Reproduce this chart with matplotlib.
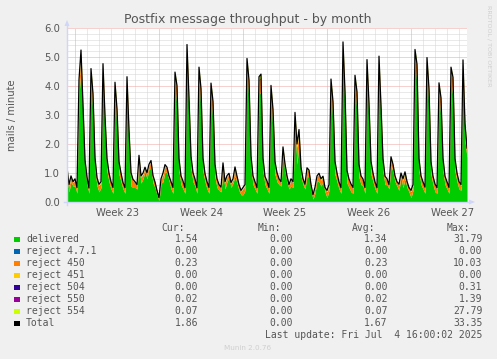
import numpy as np
import matplotlib
matplotlib.use("Agg")
import matplotlib.pyplot as plt
from matplotlib.patches import Rectangle, Polygon

# ---------------- data (4-hour samples, starting Sun Jun 1 08:00) ----------------
delivered = [
    0.90, 0.35, 0.70, 0.55,                    # Jun 1 (Sun) 08-20
    0.55, 0.30, 3.70, 4.54, 2.85, 1.15,        # Jun 2 Mon
    0.61, 0.30, 4.13, 3.00, 1.10, 0.56,        # Jun 3 Tue
    0.35, 0.50, 4.25, 2.30, 1.05, 0.70,        # Jun 4 Wed
    0.45, 0.30, 3.63, 2.50, 0.95, 0.70,        # Jun 5 Thu
    0.45, 0.30, 3.82, 1.80, 0.55, 0.50,        # Jun 6 Fri
    0.50, 0.45, 1.30, 0.65, 0.80, 1.05,        # Jun 7 Sat
    0.80, 1.15, 1.15, 0.65, 0.50, 0.25,        # Jun 8 Sun
    0.05, 0.65, 0.70, 1.05, 1.00, 0.75,        # Jun 9 Mon (holiday)
    0.45, 0.30, 3.98, 3.30, 1.05, 0.60,        # Jun 10 Tue
    0.45, 0.30, 4.88, 2.90, 1.15, 0.70,        # Jun 11 Wed
    0.55, 0.30, 4.16, 3.20, 1.05, 0.70,        # Jun 12 Thu
    0.45, 0.30, 3.60, 2.80, 0.85, 0.50,        # Jun 13 Fri
    0.40, 0.35, 1.05, 0.45, 0.70, 0.85,        # Jun 14 Sat
    0.50, 0.65, 0.90, 0.65, 0.40, 0.25,        # Jun 15 Sun
    0.25, 0.40, 4.45, 3.50, 1.15, 0.60,        # Jun 16 Mon
    0.45, 0.30, 3.80, 3.70, 1.05, 0.60,        # Jun 17 Tue
    0.45, 0.30, 3.53, 2.50, 0.95, 0.70,        # Jun 18 Wed
    0.60, 0.55, 1.60, 1.05, 0.70, 0.45,        # Jun 19 Thu (holiday)
    0.55, 0.50, 2.60, 1.30, 2.05, 0.90,        # Jun 20 Fri
    0.60, 0.45, 0.90, 0.85, 0.40, 0.10,        # Jun 21 Sat
    0.30, 0.75, 0.70, 0.55, 0.70, 0.35,        # Jun 22 Sun
    0.15, 0.40, 3.74, 2.76, 0.95, 0.70,        # Jun 23 Mon
    0.45, 0.30, 4.98, 3.10, 0.65, 0.50,        # Jun 24 Tue
    0.35, 0.30, 3.88, 3.10, 0.85, 0.60,        # Jun 25 Wed
    0.55, 0.30, 4.40, 2.70, 0.95, 0.70,        # Jun 26 Thu
    0.45, 0.30, 4.53, 2.60, 1.05, 0.60,        # Jun 27 Fri
    0.60, 0.45, 1.25, 1.05, 0.70, 0.55,        # Jun 28 Sat
    0.40, 0.85, 0.50, 0.80, 0.50, 0.35,        # Jun 29 Sun
    0.15, 0.40, 4.74, 4.05, 1.05, 0.60,        # Jun 30 Mon
    0.45, 0.30, 4.48, 3.20, 0.95, 0.60,        # Jul 1 Tue
    0.35, 0.30, 3.63, 2.90, 1.05, 0.60,        # Jul 2 Wed
    0.45, 0.30, 4.13, 3.60, 1.05, 0.70,        # Jul 3 Thu
    0.45, 0.40, 4.40, 2.10, 1.54,              # Jul 4 Fri 00-16
]

reject_450 = [
    0.22, 0.18, 0.14, 0.10,
    0.18, 0.14, 0.40, 0.55, 0.35, 0.22,
    0.17, 0.13, 0.36, 0.57, 0.33, 0.21,
    0.19, 0.15, 0.39, 0.52, 0.36, 0.23,
    0.18, 0.14, 0.37, 0.56, 0.34, 0.22,
    0.17, 0.13, 0.38, 0.54, 0.36, 0.21,
    0.14, 0.10, 0.23, 0.18, 0.14, 0.11,
    0.15, 0.11, 0.21, 0.19, 0.13, 0.10,
    0.06, 0.10, 0.22, 0.17, 0.15, 0.10,
    0.18, 0.14, 0.38, 0.56, 0.35, 0.22,
    0.19, 0.13, 0.41, 0.54, 0.34, 0.23,
    0.17, 0.15, 0.37, 0.55, 0.36, 0.21,
    0.18, 0.14, 0.39, 0.53, 0.35, 0.22,
    0.14, 0.11, 0.22, 0.18, 0.15, 0.10,
    0.13, 0.10, 0.23, 0.17, 0.14, 0.10,
    0.18, 0.14, 0.38, 0.55, 0.34, 0.22,
    0.17, 0.13, 0.39, 0.57, 0.36, 0.21,
    0.19, 0.15, 0.37, 0.54, 0.35, 0.23,
    0.14, 0.10, 0.22, 0.19, 0.14, 0.10,
    0.18, 0.14, 0.38, 0.55, 0.35, 0.22,
    0.14, 0.11, 0.21, 0.18, 0.14, 0.10,
    0.15, 0.10, 0.22, 0.18, 0.13, 0.11,
    0.18, 0.14, 0.38, 0.55, 0.35, 0.22,
    0.17, 0.13, 0.40, 0.56, 0.34, 0.21,
    0.19, 0.15, 0.37, 0.55, 0.36, 0.23,
    0.18, 0.14, 0.39, 0.54, 0.35, 0.22,
    0.17, 0.13, 0.38, 0.57, 0.34, 0.21,
    0.14, 0.10, 0.23, 0.18, 0.14, 0.10,
    0.15, 0.11, 0.22, 0.17, 0.15, 0.10,
    0.18, 0.14, 0.39, 0.55, 0.35, 0.22,
    0.17, 0.15, 0.38, 0.56, 0.34, 0.21,
    0.19, 0.13, 0.37, 0.54, 0.36, 0.23,
    0.18, 0.14, 0.40, 0.55, 0.35, 0.22,
    0.18, 0.14, 0.38, 0.45, 0.23,
]

reject_554 = [
    0.06, 0.05, 0.04, 0.03,
    0.05, 0.04, 0.10, 0.12, 0.08, 0.06,
    0.06, 0.04, 0.09, 0.13, 0.08, 0.05,
    0.05, 0.03, 0.10, 0.12, 0.07, 0.06,
    0.05, 0.04, 0.11, 0.12, 0.08, 0.06,
    0.04, 0.04, 0.10, 0.11, 0.08, 0.05,
    0.04, 0.03, 0.06, 0.05, 0.04, 0.03,
    0.04, 0.03, 0.05, 0.05, 0.04, 0.03,
    0.02, 0.03, 0.06, 0.05, 0.04, 0.03,
    0.05, 0.04, 0.10, 0.12, 0.08, 0.06,
    0.06, 0.04, 0.11, 0.12, 0.07, 0.06,
    0.05, 0.03, 0.10, 0.13, 0.08, 0.05,
    0.05, 0.04, 0.09, 0.12, 0.08, 0.06,
    0.04, 0.03, 0.06, 0.05, 0.04, 0.03,
    0.03, 0.03, 0.06, 0.05, 0.04, 0.03,
    0.05, 0.04, 0.10, 0.12, 0.08, 0.06,
    0.05, 0.04, 0.10, 0.11, 0.08, 0.05,
    0.06, 0.04, 0.10, 0.12, 0.07, 0.06,
    0.04, 0.03, 0.06, 0.05, 0.04, 0.03,
    0.05, 0.04, 0.09, 0.12, 0.08, 0.06,
    0.04, 0.03, 0.06, 0.05, 0.04, 0.03,
    0.04, 0.03, 0.05, 0.05, 0.04, 0.03,
    0.05, 0.04, 0.10, 0.12, 0.08, 0.06,
    0.05, 0.04, 0.11, 0.12, 0.08, 0.06,
    0.06, 0.03, 0.10, 0.12, 0.07, 0.05,
    0.05, 0.04, 0.10, 0.13, 0.08, 0.06,
    0.05, 0.04, 0.10, 0.12, 0.08, 0.06,
    0.04, 0.03, 0.06, 0.05, 0.04, 0.03,
    0.04, 0.03, 0.06, 0.05, 0.04, 0.03,
    0.05, 0.04, 0.10, 0.12, 0.08, 0.06,
    0.05, 0.04, 0.10, 0.11, 0.08, 0.06,
    0.06, 0.04, 0.09, 0.12, 0.08, 0.05,
    0.05, 0.04, 0.10, 0.12, 0.08, 0.06,
    0.05, 0.04, 0.10, 0.12, 0.07,
]

reject_550 = [
    0.02, 0.02, 0.02, 0.02,
    0.02, 0.02, 0.02, 0.03, 0.02, 0.02,
    0.02, 0.01, 0.02, 0.03, 0.02, 0.02,
    0.02, 0.02, 0.03, 0.03, 0.02, 0.01,
    0.02, 0.02, 0.02, 0.03, 0.02, 0.02,
    0.01, 0.02, 0.02, 0.03, 0.02, 0.02,
    0.02, 0.02, 0.02, 0.02, 0.02, 0.01,
    0.02, 0.01, 0.02, 0.02, 0.02, 0.02,
    0.02, 0.02, 0.02, 0.02, 0.01, 0.02,
    0.02, 0.02, 0.02, 0.03, 0.02, 0.02,
    0.02, 0.02, 0.03, 0.03, 0.02, 0.02,
    0.02, 0.01, 0.02, 0.03, 0.02, 0.02,
    0.02, 0.02, 0.02, 0.02, 0.02, 0.02,
    0.02, 0.02, 0.02, 0.02, 0.02, 0.01,
    0.01, 0.02, 0.02, 0.02, 0.02, 0.02,
    0.02, 0.02, 0.02, 0.03, 0.02, 0.02,
    0.02, 0.02, 0.03, 0.03, 0.02, 0.02,
    0.02, 0.01, 0.02, 0.03, 0.02, 0.02,
    0.02, 0.02, 0.02, 0.02, 0.02, 0.02,
    0.02, 0.02, 0.02, 0.03, 0.02, 0.02,
    0.02, 0.02, 0.01, 0.02, 0.02, 0.02,
    0.02, 0.02, 0.02, 0.02, 0.02, 0.01,
    0.02, 0.02, 0.02, 0.03, 0.02, 0.02,
    0.02, 0.02, 0.03, 0.03, 0.02, 0.02,
    0.02, 0.02, 0.02, 0.03, 0.02, 0.02,
    0.01, 0.02, 0.02, 0.03, 0.02, 0.02,
    0.02, 0.02, 0.02, 0.03, 0.02, 0.02,
    0.02, 0.02, 0.02, 0.02, 0.02, 0.02,
    0.02, 0.01, 0.02, 0.02, 0.02, 0.02,
    0.02, 0.02, 0.03, 0.03, 0.02, 0.02,
    0.02, 0.02, 0.02, 0.03, 0.02, 0.02,
    0.02, 0.02, 0.02, 0.03, 0.02, 0.01,
    0.02, 0.02, 0.02, 0.03, 0.02, 0.02,
    0.02, 0.02, 0.02, 0.03, 0.02,
]

series_names = ["delivered", "reject 4.7.1", "reject 450", "reject 451",
                "reject 504", "reject 550", "reject 554", "Total"]
series_colors = ["#00CC00", "#0066B3", "#FF8000", "#FFCC00",
                 "#330099", "#990099", "#CCFF00", "#000000"]
cur_vals = ["1.54", "0.00", "0.23", "0.00", "0.00", "0.02", "0.07", "1.86"]
min_vals = ["0.00", "0.00", "0.00", "0.00", "0.00", "0.00", "0.00", "0.00"]
avg_vals = ["1.34", "0.00", "0.23", "0.00", "0.00", "0.02", "0.07", "1.67"]
max_vals = ["31.79", "0.00", "10.03", "0.00", "0.31", "1.39", "27.79", "33.35"]

week_labels = ["Week 23", "Week 24", "Week 25", "Week 26", "Week 27"]
week_starts = [0, 7, 14, 21, 28]          # days from Mon Jun 2 00:00
y_ticks = [0.0, 1.0, 2.0, 3.0, 4.0, 5.0, 6.0]

# ---------------- figure ----------------
W, H = 497, 359
fig = plt.figure(figsize=(W / 100, H / 100), dpi=100, facecolor="#F0F0F0")


def fx(px):
    return px / W


def fy(py):
    return 1 - py / H


ax = fig.add_axes([fx(67), fy(202), 400 / W, 174 / H])
ax.set_facecolor("white")

n = len(delivered)
t = (-16 + 4 * np.arange(n)) / 24.0  # days since Mon Jun 2 00:00
x0, x1 = -16 / 24.0, 784 / 24.0
ax.set_xlim(x0, x1)
ax.set_ylim(0, 6)

# grid
minor_c = "#D4D4D4"
major_c = "#EFA0A0"
dot = (0, (1, 1))
for yv in np.arange(0.2, 6.01, 0.2):
    if abs(yv - round(yv)) < 1e-6:
        continue
    ax.axhline(yv, color=minor_c, lw=0.72, ls=dot, zorder=0)
for d in range(0, 33):
    if d % 7 == 0:
        continue
    ax.axvline(d, color=minor_c, lw=0.72, ls=dot, zorder=0)
for yv in y_ticks[1:]:
    ax.axhline(yv, color=major_c, lw=0.72, ls=dot, zorder=0.5)
for ws in week_starts:
    ax.axvline(ws, color=major_c, lw=0.72, ls=dot, zorder=0.5)

# stacked areas
zeros = np.zeros(n)
stack = [np.array(delivered), zeros, np.array(reject_450), zeros, zeros,
         np.array(reject_550), np.array(reject_554)]
base = np.zeros(n)
for vals, col in zip(stack, series_colors[:7]):
    top = base + vals
    if vals.any():
        ax.fill_between(t, base, top, color=col, lw=0, zorder=2)
    base = top
total = base
ax.plot(t, total, color="black", lw=0.9, zorder=3)

# axes styling
for s in ax.spines.values():
    s.set_visible(False)
ax.set_yticks(y_ticks)
ax.set_yticklabels([f"{v:.1f}" for v in y_ticks])
ax.set_xticks([w + 3.5 for w in week_starts])
ax.set_xticklabels(week_labels)
ax.tick_params(length=0, labelsize=7.2, colors="#555555", pad=5)
ax.tick_params(axis="x", pad=4)

# axis lines + arrows
axc = "#CFD6F8"
fig.add_artist(plt.Line2D([fx(67), fx(67)], [fy(205), fy(24)], color=axc, lw=1))
fig.add_artist(plt.Line2D([fx(64), fx(469)], [fy(202), fy(202)], color=axc, lw=1))
fig.add_artist(Polygon([[fx(64.5), fy(26)], [fx(69.5), fy(26)], [fx(67), fy(20)]],
                       closed=True, color=axc, lw=0))
fig.add_artist(Polygon([[fx(469), fy(199.5)], [fx(469), fy(204.5)], [fx(475), fy(202)]],
                       closed=True, color=axc, lw=0))

# texts
fig.text(fx(248), fy(19), "Postfix message throughput - by month", ha="center",
         va="center", fontsize=9, color="#555555")
fig.text(fx(12), fy(115), "mails / minute", rotation=90, ha="center", va="center",
         fontsize=7.2, color="#555555")
fig.text(fx(489), fy(5), "RRDTOOL / TOBI OETIKER", rotation=270, ha="center",
         va="top", fontsize=4.6, color="#CFCFCF")

mono = "DejaVu Sans Mono"
tc = "#555555"
fig.text(fx(185), fy(227.7), "Cur:", ha="right", va="center", family=mono, fontsize=7, color=tc)
fig.text(fx(281), fy(227.7), "Min:", ha="right", va="center", family=mono, fontsize=7, color=tc)
fig.text(fx(375.7), fy(227.7), "Avg:", ha="right", va="center", family=mono, fontsize=7, color=tc)
fig.text(fx(470), fy(227.7), "Max:", ha="right", va="center", family=mono, fontsize=7, color=tc)
for i, name in enumerate(series_names):
    yc = 239.3 + 12 * i
    fig.add_artist(Rectangle((fx(14), fy(yc + 2.8)), 5.5 / W, 5.5 / H,
                             color=series_colors[i], lw=0))
    fig.text(fx(26), fy(yc), name, ha="left", va="center", family=mono, fontsize=7, color=tc)
    fig.text(fx(198.3), fy(yc), cur_vals[i], ha="right", va="center", family=mono, fontsize=7, color=tc)
    fig.text(fx(293.3), fy(yc), min_vals[i], ha="right", va="center", family=mono, fontsize=7, color=tc)
    fig.text(fx(387.7), fy(yc), avg_vals[i], ha="right", va="center", family=mono, fontsize=7, color=tc)
    fig.text(fx(482.3), fy(yc), max_vals[i], ha="right", va="center", family=mono, fontsize=7, color=tc)

fig.text(fx(482.3), fy(335.5), "Last update: Fri Jul  4 16:00:02 2025", ha="right",
         va="center", family=mono, fontsize=7, color=tc)
fig.text(fx(248), fy(348.5), "Munin 2.0.76", ha="center", va="center", fontsize=5.2,
         color="#CFCFCF")

fig.savefig("out.png", dpi=100, facecolor=fig.get_facecolor())
